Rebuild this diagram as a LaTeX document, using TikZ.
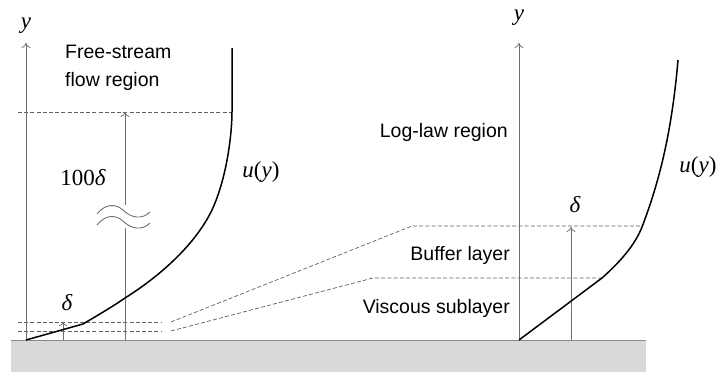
\documentclass[tikz,border=0pt]{standalone}
\usepackage{fontspec}
\setmainfont{Liberation Sans}
\newfontfamily\mathserif{Liberation Serif}
\usetikzlibrary{arrows.meta}
\definecolor{axisgray}{HTML}{707070}
\definecolor{dashgray}{HTML}{606060}
\definecolor{groundgray}{HTML}{D9D9D9}
\definecolor{edgegray}{HTML}{8A8A8A}
\tikzset{
  axisline/.style={draw=axisgray, line width=0.8pt, -{To[length=5pt,width=9pt]}},
  dashline/.style={draw=dashgray, line width=0.7pt, dash pattern=on 4pt off 2.2pt},
  profile/.style={draw=black, line width=1.5pt, line join=round},
  lbl/.style={font=\fontsize{19.5}{28}\selectfont, inner sep=0pt},
  mlbl/.style={font=\mathserif\fontsize{23}{26}\selectfont\itshape, inner sep=0pt},
  wave/.style={draw=axisgray, line width=0.9pt}
}
\begin{document}
\begin{tikzpicture}[x=1pt,y=-1pt]
\useasboundingbox (0,0) rectangle (718,372);
% ground
\fill[groundgray] (11,340) rectangle (646,372);
\draw[edgegray, line width=0.9pt] (11,340) -- (646,340);
% coordinates
\coordinate (L0) at (26,340);
\coordinate (Ltop) at (26,43);
\coordinate (R0) at (519,340);
\coordinate (Rtop) at (519,43);
\coordinate (A0) at (125,340);
\coordinate (A1) at (125,112);
\coordinate (d0) at (63,340);
\coordinate (d1) at (63,322);
\coordinate (e0) at (571,340);
\coordinate (e1) at (571,227);
% dashed lines left
\draw[dashline] (18,112) -- (232,112);
\draw[dashline] (18,322) -- (162,322);
\draw[dashline] (18,331) -- (162,331);
% connecting dashed lines
\coordinate (c1) at (171,322);
\coordinate (c2) at (412,226);
\coordinate (c3) at (642,226);
\coordinate (c4) at (171,331);
\coordinate (c5) at (373,278);
\coordinate (c6) at (602,278);
\draw[dashline] (c1) -- (c2) -- (c3);
\draw[dashline] (c4) -- (c5) -- (c6);
% axes
\draw[axisline] (L0) -- (Ltop);
\draw[axisline] (R0) -- (Rtop);
\draw[axisline] (A0) -- (A1);
\draw[axisline, -{To[length=4pt,width=8pt]}] (d0) -- (d1);
\draw[axisline] (e0) -- (e1);
% break symbol
\fill[white] (119,205) rectangle (131,228);
\draw[wave] (97,214) .. controls (105,204) and (115,203) .. (123,210) .. controls (131,218) and (142,220) .. (150,212);
\draw[wave] (97,225) .. controls (105,215) and (115,214) .. (123,221) .. controls (131,229) and (142,231) .. (150,223);
% profiles
\draw[profile] (26,340) -- (83,324) .. controls (100,314) and (115,305) .. (125,298)
  .. controls (160,276) and (195,245) .. (212,210)
  .. controls (228,175) and (232,130) .. (232,112) -- (232,48);
\draw[profile] (519,340) -- (602,278) .. controls (620,262) and (635,245) .. (642,227)
  .. controls (660,180) and (672,130) .. (678,60);
% labels
\node[mlbl] (yl) at (26,26) {y};
\node[mlbl] (yr) at (519,18) {y};
\node[lbl, align=left, anchor=west] (fs) at (65,68) {Free-stream\\flow region};
\node[mlbl, anchor=center] (hd) at (83,178) {{\upshape 100}δ};
\node[mlbl] (dl) at (67,303) {δ};
\node[mlbl] (uy1) at (261,172) {u{\upshape(}y{\upshape)}};
\node[mlbl] (uy2) at (698,167) {u{\upshape(}y{\upshape)}};
\node[mlbl] (dr) at (575,205) {δ};
\node[lbl, anchor=east] (ll) at (508,132) {Log-law region};
\node[lbl, anchor=east] (bl) at (510,255) {Buffer layer};
\node[lbl, anchor=east] (vs) at (510,308) {Viscous sublayer};
\end{tikzpicture}
\end{document}
